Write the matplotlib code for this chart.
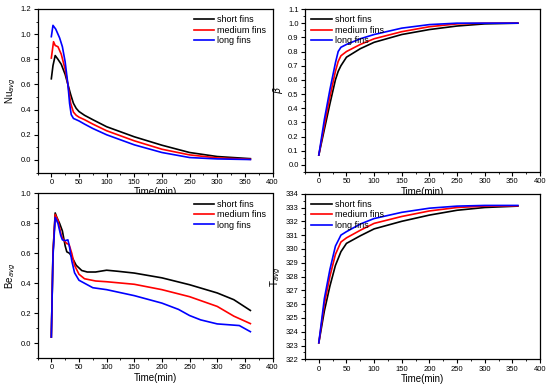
import matplotlib
matplotlib.use("Agg")
import matplotlib.pyplot as plt
from matplotlib.ticker import MultipleLocator

labels = ["short fins", "medium fins", "long fins"]
colors = ["black", "red", "blue"]

# Nu_avg
t_nu_s = [0, 3, 7, 12, 18, 25, 30, 35, 40, 45, 50, 60, 75, 100, 150, 200, 250, 300, 360]
nu_s = [0.645, 0.75, 0.83, 0.80, 0.76, 0.68, 0.60, 0.52, 0.45, 0.41, 0.385, 0.355, 0.32, 0.264, 0.184, 0.117, 0.059, 0.027, 0.01]
t_nu_m = [0, 4, 7, 12, 18, 25, 30, 35, 40, 45, 50, 60, 75, 100, 150, 200, 250, 300, 360]
nu_m = [0.81, 0.94, 0.91, 0.90, 0.84, 0.72, 0.60, 0.45, 0.38, 0.355, 0.34, 0.32, 0.285, 0.232, 0.152, 0.085, 0.04, 0.016, 0.005]
t_nu_l = [0, 3, 8, 15, 20, 25, 30, 33, 36, 40, 50, 60, 75, 100, 150, 200, 250, 300, 360]
nu_l = [0.98, 1.07, 1.04, 0.97, 0.90, 0.78, 0.60, 0.45, 0.36, 0.33, 0.31, 0.285, 0.25, 0.20, 0.12, 0.059, 0.019, 0.008, 0.003]

# beta
t_b = [0, 10, 20, 30, 35, 40, 50, 75, 100, 150, 200, 250, 300, 360]
beta_s = [0.07, 0.25, 0.43, 0.60, 0.66, 0.70, 0.76, 0.82, 0.865, 0.92, 0.955, 0.98, 0.995, 1.0]
beta_m = [0.07, 0.28, 0.48, 0.66, 0.73, 0.77, 0.80, 0.85, 0.89, 0.94, 0.975, 0.995, 1.0, 1.0]
beta_l = [0.07, 0.32, 0.53, 0.72, 0.80, 0.83, 0.85, 0.89, 0.92, 0.965, 0.99, 1.0, 1.0, 1.0]

# Be_avg
t_be_s = [0, 3, 7, 10, 15, 20, 25, 28, 33, 38, 45, 55, 65, 80, 100, 120, 150, 200, 250, 300, 330, 360]
be_s = [0.04, 0.6, 0.87, 0.84, 0.80, 0.75, 0.65, 0.61, 0.60, 0.57, 0.52, 0.485, 0.475, 0.475, 0.487, 0.48, 0.468, 0.436, 0.39, 0.335, 0.29, 0.218]
t_be_m = [0, 3, 7, 12, 18, 22, 28, 32, 37, 42, 50, 60, 80, 100, 150, 200, 250, 300, 330, 360]
be_m = [0.04, 0.6, 0.86, 0.82, 0.72, 0.69, 0.665, 0.66, 0.60, 0.52, 0.46, 0.43, 0.415, 0.41, 0.393, 0.357, 0.31, 0.245, 0.18, 0.13]
t_be_l = [0, 3, 7, 12, 17, 20, 25, 30, 33, 37, 42, 50, 60, 75, 100, 150, 200, 230, 250, 270, 300, 340, 360]
be_l = [0.04, 0.58, 0.84, 0.80, 0.72, 0.69, 0.685, 0.69, 0.64, 0.55, 0.47, 0.42, 0.40, 0.37, 0.357, 0.317, 0.267, 0.225, 0.184, 0.155, 0.128, 0.117, 0.076]

# T_avg
t_T = [0, 10, 20, 30, 40, 50, 75, 100, 150, 200, 250, 300, 360]
T_s = [323.2, 325.5, 327.3, 328.8, 329.8, 330.4, 330.95, 331.45, 332.0, 332.45, 332.8, 333.0, 333.1]
T_m = [323.2, 326.0, 328.0, 329.6, 330.5, 330.8, 331.35, 331.85, 332.35, 332.75, 333.0, 333.1, 333.12]
T_l = [323.2, 326.4, 328.5, 330.2, 331.0, 331.25, 331.8, 332.2, 332.65, 332.95, 333.1, 333.15, 333.15]

plt.rcParams['font.family'] = ['Liberation Sans', 'DejaVu Sans']

fig = plt.figure(figsize=(5.5, 3.88), dpi=100)
W, H = 550.0, 388.0

def mk(l, t, r, b):
    return fig.add_axes([l / W, 1 - b / H, (r - l) / W, (b - t) / H])

ax1 = mk(37.5, 9, 272.5, 172.5)
ax2 = mk(305, 9, 540, 172)
ax3 = mk(37.5, 193.5, 272.5, 358)
ax4 = mk(305, 193.7, 540, 359.3)

def style(ax, ylim, major, minor, ylabel, legloc):
    ax.set_xlim(-25, 400)
    ax.set_ylim(*ylim)
    ax.xaxis.set_major_locator(MultipleLocator(50))
    ax.xaxis.set_minor_locator(MultipleLocator(25))
    ax.yaxis.set_major_locator(MultipleLocator(major))
    ax.yaxis.set_minor_locator(MultipleLocator(minor))
    ax.tick_params(which='major', direction='out', length=3, width=0.8, labelsize=5.5, pad=1.5)
    ax.tick_params(which='minor', direction='out', length=1.6, width=0.6)
    for s in ax.spines.values():
        s.set_linewidth(0.9)
    ax.set_xlabel("Time(min)", fontsize=7, labelpad=1)
    ax.set_ylabel(ylabel, fontsize=7, labelpad=2)
    ax.legend(loc=legloc, frameon=False, fontsize=6.5, handlelength=2.3,
              handletextpad=0.3, labelspacing=0.15, borderaxespad=0.3)

ax1.plot(t_nu_s, nu_s, color=colors[0], lw=1.2, label=labels[0])
ax1.plot(t_nu_m, nu_m, color=colors[1], lw=1.2, label=labels[1])
ax1.plot(t_nu_l, nu_l, color=colors[2], lw=1.2, label=labels[2])
style(ax1, (-0.1, 1.2), 0.2, 0.1, r'Nu$_{avg}$', 'upper right')
ax1.yaxis.set_major_formatter(matplotlib.ticker.FormatStrFormatter('%.1f'))

ax2.plot(t_b, beta_s, color=colors[0], lw=1.2, label=labels[0])
ax2.plot(t_b, beta_m, color=colors[1], lw=1.2, label=labels[1])
ax2.plot(t_b, beta_l, color=colors[2], lw=1.2, label=labels[2])
style(ax2, (-0.05, 1.1), 0.1, 0.05, r'$\beta$', 'upper left')
ax2.yaxis.set_major_formatter(matplotlib.ticker.FormatStrFormatter('%.1f'))

ax3.plot(t_be_s, be_s, color=colors[0], lw=1.2, label=labels[0])
ax3.plot(t_be_m, be_m, color=colors[1], lw=1.2, label=labels[1])
ax3.plot(t_be_l, be_l, color=colors[2], lw=1.2, label=labels[2])
style(ax3, (-0.1, 1.0), 0.2, 0.1, r'Be$_{avg}$', 'upper right')
ax3.yaxis.set_major_formatter(matplotlib.ticker.FormatStrFormatter('%.1f'))

ax4.plot(t_T, T_s, color=colors[0], lw=1.2, label=labels[0])
ax4.plot(t_T, T_m, color=colors[1], lw=1.2, label=labels[1])
ax4.plot(t_T, T_l, color=colors[2], lw=1.2, label=labels[2])
style(ax4, (322, 334), 1, 0.5, r'T$_{avg}$', 'upper left')

fig.savefig("out.png", dpi=100)
